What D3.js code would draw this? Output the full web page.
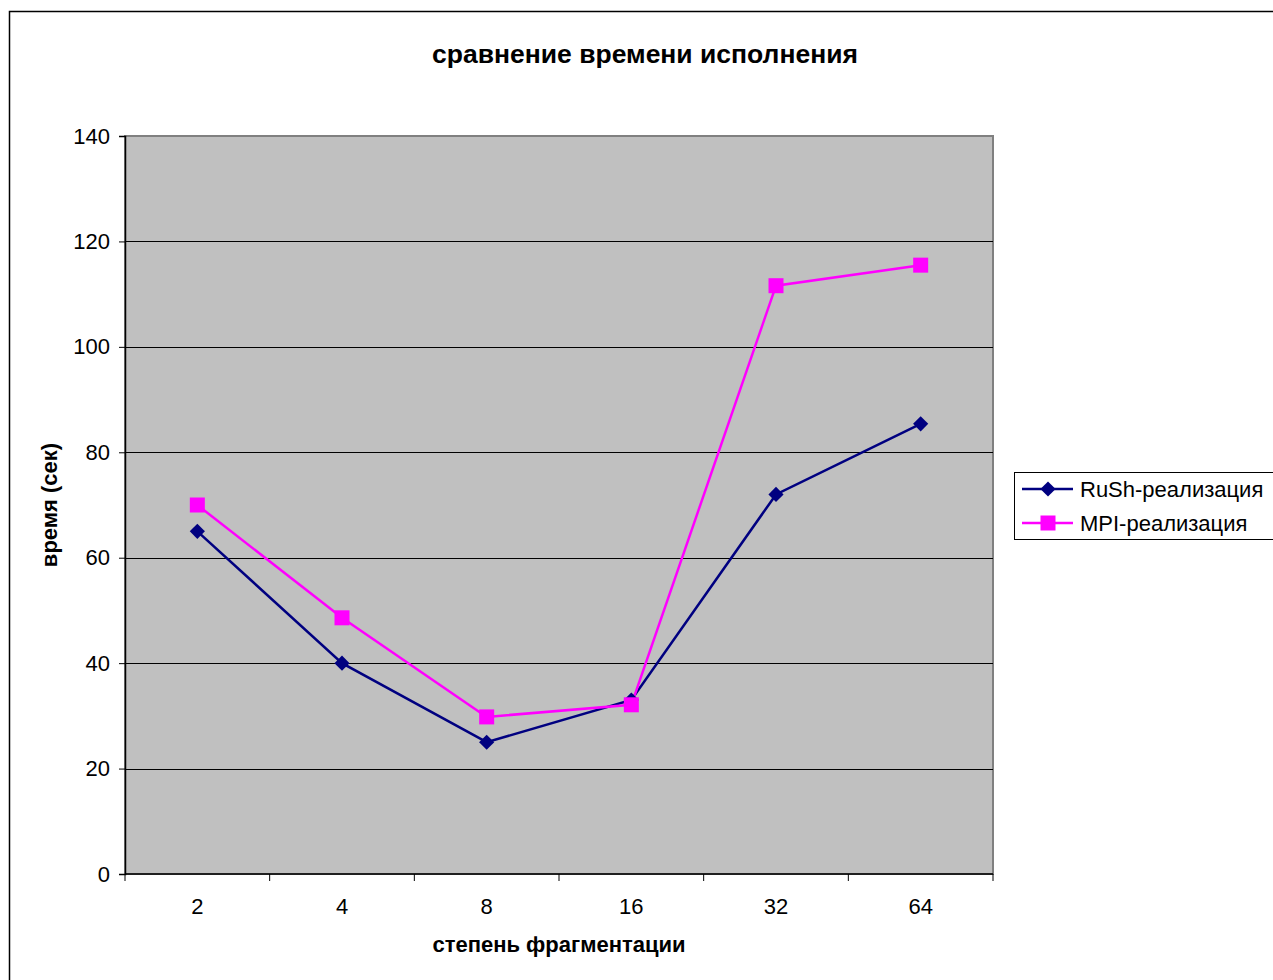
<!DOCTYPE html>
<html>
<head>
<meta charset="utf-8">
<script src="https://cdn.jsdelivr.net/npm/d3@7"></script>
<style>
  html, body { margin: 0; padding: 0; background: #fff; }
  svg { display: block; }
  text { font-family: "Liberation Sans", Arial, sans-serif; }
</style>
</head>
<body>
<svg id="chart" width="1273" height="980"></svg>
<script>
// Fragmentation levels and execution times (seconds)
const categories = ["2", "4", "8", "16", "32", "64"];
const rushTimes = [65, 40, 25, 33, 72, 85.4];
const mpiTimes = [70, 48.6, 29.8, 32.1, 111.6, 115.5];
const yTicks = [0, 20, 40, 60, 80, 100, 120, 140];
const seriesNames = ["RuSh-реализация", "MPI-реализация"];

const svg = d3.select("#chart");

// outer chart frame
svg.append("rect")
  .attr("x", 9.5).attr("y", 11.5)
  .attr("width", 1300).attr("height", 1000)
  .attr("fill", "#fff").attr("stroke", "#000").attr("stroke-width", 1.5);

const plot = { left: 125, right: 993, top: 136, bottom: 874 };

const x = d3.scaleBand().domain(categories).range([plot.left, plot.right]);
const y = d3.scaleLinear().domain([0, 140]).range([plot.bottom, plot.top]);

// plot background
svg.append("rect")
  .attr("x", plot.left).attr("y", plot.top)
  .attr("width", plot.right - plot.left).attr("height", plot.bottom - plot.top)
  .attr("fill", "#c0c0c0").attr("stroke", "#808080").attr("stroke-width", 2);

// horizontal gridlines
svg.append("g").selectAll("line")
  .data(yTicks.filter(d => d > 0 && d < 140))
  .join("line")
  .attr("x1", plot.left).attr("x2", plot.right)
  .attr("y1", d => Math.round(y(d)) + 0.5).attr("y2", d => Math.round(y(d)) + 0.5)
  .attr("stroke", "#000").attr("stroke-width", 1);

// y axis
const yAxis = svg.append("g")
  .attr("transform", `translate(${plot.left},0)`)
  .call(d3.axisLeft(y).tickValues(yTicks).tickSize(6).tickPadding(9));
yAxis.select(".domain").attr("stroke", "#000").attr("stroke-width", 1.5);
yAxis.selectAll(".tick line").attr("stroke", "#000");
yAxis.selectAll(".tick text").attr("font-size", 22).attr("fill", "#000")
  .attr("font-family", "'Liberation Sans', Arial, sans-serif");

// x axis: ticks at band boundaries, labels at band centres
const xg = svg.append("g").attr("transform", `translate(0,${plot.bottom})`);
xg.append("line")
  .attr("x1", plot.left).attr("x2", plot.right)
  .attr("stroke", "#000").attr("stroke-width", 1.5);
const bounds = categories.map(c => x(c)).concat([plot.right]);
xg.selectAll("line.tk").data(bounds).join("line")
  .attr("class", "tk")
  .attr("x1", d => d).attr("x2", d => d)
  .attr("y1", 0).attr("y2", 7)
  .attr("stroke", "#000");
xg.selectAll("text").data(categories).join("text")
  .attr("x", d => x(d) + x.bandwidth() / 2)
  .attr("y", 40)
  .attr("text-anchor", "middle")
  .attr("font-size", 22)
  .text(d => d);

// title and axis titles
svg.append("text")
  .attr("x", 645).attr("y", 63)
  .attr("text-anchor", "middle")
  .attr("font-size", 26.5).attr("font-weight", "bold")
  .text("сравнение времени исполнения");

svg.append("text")
  .attr("x", 559).attr("y", 952)
  .attr("text-anchor", "middle")
  .attr("font-size", 22).attr("font-weight", "bold")
  .text("степень фрагментации");

svg.append("text")
  .attr("transform", `translate(57,${505}) rotate(-90)`)
  .attr("text-anchor", "middle")
  .attr("font-size", 22).attr("font-weight", "bold")
  .text("время (сек)");

const cx = (d, i) => x(categories[i]) + x.bandwidth() / 2;
const line = d3.line().x((d, i) => cx(d, i)).y(d => y(d));

const navy = "#000080";
const magenta = "#ff00ff";

// RuSh series
svg.append("path").datum(rushTimes)
  .attr("d", line).attr("fill", "none")
  .attr("stroke", navy).attr("stroke-width", 2.5);
// MPI series
svg.append("path").datum(mpiTimes)
  .attr("d", line).attr("fill", "none")
  .attr("stroke", magenta).attr("stroke-width", 2.5);

const diamondShape = d3.symbol().type(d3.symbolSquare).size(115);
svg.append("g").selectAll("path").data(rushTimes).join("path")
  .attr("d", diamondShape)
  .attr("transform", (d, i) => `translate(${cx(d, i)},${y(d)}) rotate(45)`)
  .attr("fill", navy);

svg.append("g").selectAll("rect").data(mpiTimes).join("rect")
  .attr("x", (d, i) => cx(d, i) - 7.5)
  .attr("y", d => y(d) - 7.5)
  .attr("width", 15).attr("height", 15)
  .attr("fill", magenta);

// legend
const lg = svg.append("g");
lg.append("rect")
  .attr("x", 1014.5).attr("y", 472.5)
  .attr("width", 300).attr("height", 67)
  .attr("fill", "#fff").attr("stroke", "#000").attr("stroke-width", 1);
const legendColors = [navy, magenta];
seriesNames.forEach((name, i) => {
  const ly = 489 + i * 34;
  lg.append("line")
    .attr("x1", 1022).attr("x2", 1073)
    .attr("y1", ly).attr("y2", ly)
    .attr("stroke", legendColors[i]).attr("stroke-width", 2.5);
  if (i === 0) {
    lg.append("path")
      .attr("d", diamondShape)
      .attr("transform", `translate(1048,${ly}) rotate(45)`)
      .attr("fill", navy);
  } else {
    lg.append("rect")
      .attr("x", 1048 - 7.5).attr("y", ly - 7.5)
      .attr("width", 15).attr("height", 15)
      .attr("fill", magenta);
  }
  lg.append("text")
    .attr("x", 1080).attr("y", ly + 8)
    .attr("font-size", 22)
    .text(name);
});
</script>
</body>
</html>
